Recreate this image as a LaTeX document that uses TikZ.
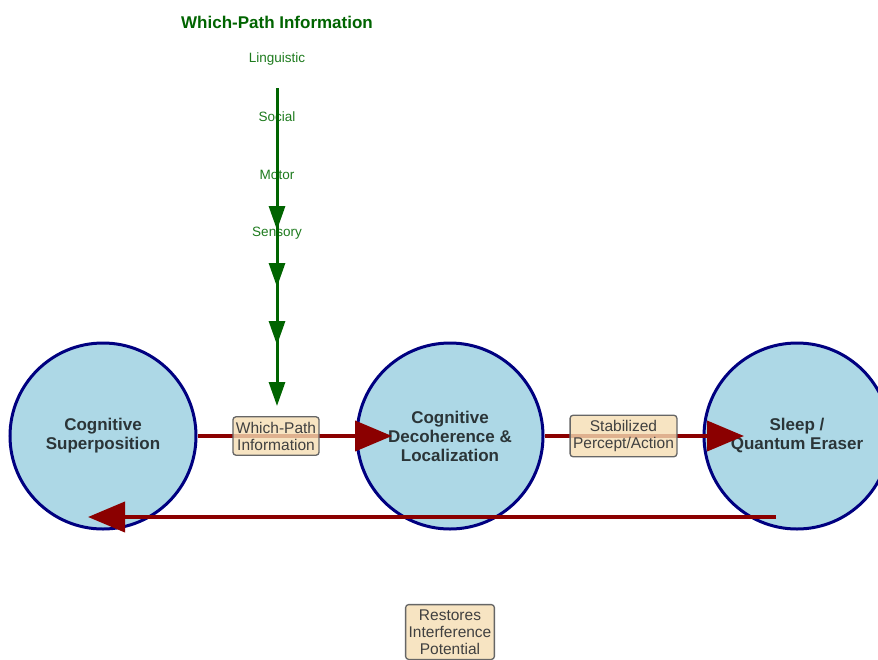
\documentclass[tikz,border=0pt]{standalone}
\usepackage{fontspec}
\setmainfont{Liberation Sans}
\usetikzlibrary{arrows.meta}
\definecolor{cfill}{HTML}{ADD8E6}
\definecolor{cdraw}{HTML}{000080}
\definecolor{dred}{HTML}{8B0000}
\definecolor{dgreen}{HTML}{006400}
\definecolor{lgreen}{HTML}{1E7B1E}
\definecolor{wheatc}{HTML}{F5DEB3}
\definecolor{txt}{HTML}{2B3538}
\tikzset{
  stage/.style={circle, minimum size=186pt, inner sep=0pt, fill=cfill, draw=cdraw, line width=3pt, align=center, font=\fontsize{17}{19}\selectfont\bfseries, text=txt},
  lbl/.style={rounded corners=3pt, draw=black!60, line width=1.3pt, fill=wheatc, fill opacity=0.8, text opacity=1, align=center, font=\fontsize{15.5}{17}\selectfont, text=black!75, inner xsep=3pt, inner ysep=5pt},
  redarrow/.style={draw=dred, line width=4pt, -{Triangle[length=37pt,width=30pt]}},
  greenarrow/.style={draw=dgreen, line width=3pt, -{Triangle[length=24pt,width=16pt]}},
  chan/.style={font=\fontsize{13.5}{15}\selectfont, text=lgreen},
}
\begin{document}
\begin{tikzpicture}[x=1pt,y=-1pt]
\clip (0,0) rectangle (878,659);
\useasboundingbox (0,0) rectangle (878,659);
\fill[white] (0,0) rectangle (878,659);

% title and channels
\node[font=\fontsize{17}{19}\selectfont\bfseries, text=dgreen] (title) at (277,22) {Which-Path Information};
\node[chan] (ling) at (277,59) {Linguistic};
\node[chan] (soc) at (277,117) {Social};
\node[chan] (mot) at (277,175) {Motor};
\node[chan] (sen) at (277,233) {Sensory};

% stages
\node[stage] (c1) at (103,436) {Cognitive\\Superposition};
\node[stage] (c2) at (450,436) {Cognitive\\Decoherence \&\\Localization};
\node[stage] (c3) at (797,436) {Sleep /\\Quantum Eraser};

% green arrows
\coordinate (g0) at (277,88);
\coordinate (g1) at (277,230);
\coordinate (g2) at (277,287);
\coordinate (g3) at (277,345);
\coordinate (g4) at (277,406);
\draw[greenarrow] (g0) -- (g1);
\draw[greenarrow] (g0) -- (g2);
\draw[greenarrow] (g0) -- (g3);
\draw[greenarrow] (g0) -- (g4);

% red arrows
\coordinate (t2) at (392,436);
\coordinate (t3) at (744,436);
\coordinate (bs) at (776,517);
\coordinate (bt) at (88,517);
\draw[redarrow] (c1.east) -- (t2);
\draw[redarrow] (c2.east) -- (t3);
\draw[redarrow] (bs) -- (bt);

% labels
\node[lbl] (l1) at (276,436) {Which-Path\\Information};
\node[lbl] (l2) at (623.5,436) {Stabilized\\Percept/Action};
\node[lbl] (l3) at (450,632) {Restores\\Interference\\Potential};
\end{tikzpicture}
\end{document}
